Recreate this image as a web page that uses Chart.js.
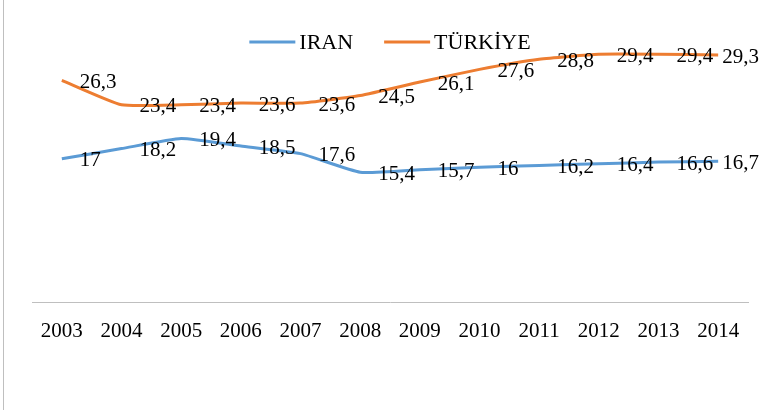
<!DOCTYPE html>
<html>
<head>
<meta charset="utf-8">
<script src="https://cdn.jsdelivr.net/npm/chart.js@4"></script>
<style>
  html, body { margin: 0; padding: 0; background: #fff; }
  #wrap { position: relative; width: 760px; height: 410px; }
  #edge { position: absolute; left: 3px; top: 0; width: 0; height: 410px; border-left: 1px solid #bfbfbf; }
</style>
</head>
<body>
<div id="wrap">
  <canvas id="chart" width="760" height="410"></canvas>
  <div id="edge"></div>
</div>
<script>
const years   = ['2003','2004','2005','2006','2007','2008','2009','2010','2011','2012','2013','2014']
const iran    = [17, 18.2, 19.4, 18.5, 17.6, 15.4, 15.7, 16, 16.2, 16.4, 16.6, 16.7]
const turkiye = [26.3, 23.4, 23.4, 23.6, 23.6, 24.5, 26.1, 27.6, 28.8, 29.4, 29.4, 29.3]

const SERIF = "'Liberation Serif', 'Times New Roman', serif"

// etiquetas de valor a la derecha de cada punto, con coma decimal
const valueLabels = {
  id: 'valueLabels',
  afterDatasetsDraw(chart) {
    const ctx = chart.ctx
    ctx.save()
    ctx.font = `21px ${SERIF}`
    ctx.fillStyle = '#000'
    ctx.textAlign = 'left'
    ctx.textBaseline = 'middle'
    chart.data.datasets.forEach((ds, i) => {
      chart.getDatasetMeta(i).data.forEach((pt, j) => {
        const txt = String(ds.data[j]).replace('.', ',')
        const w = ctx.measureText(txt).width
        const x = Math.min(pt.x + 18, chart.width - 1 - w)
        ctx.fillText(txt, x, pt.y + 2)
      })
    })
    ctx.restore()
  }
}

// leyenda horizontal dentro del área del gráfico
const innerLegend = {
  id: 'innerLegend',
  afterDraw(chart) {
    const ctx = chart.ctx
    const a = chart.chartArea
    ctx.save()
    ctx.font = `22px ${SERIF}`
    ctx.textBaseline = 'middle'
    ctx.textAlign = 'left'
    const lineW = 46, gapTxt = 4, gapItem = 31, y = 42
    const items = chart.data.datasets.map(ds => ({ ds, w: ctx.measureText(ds.label).width }))
    const total = items.reduce((s, it) => s + lineW + gapTxt + it.w, 0) + gapItem * (items.length - 1)
    let x = (a.left + a.right) / 2 - total / 2
    items.forEach(it => {
      ctx.strokeStyle = it.ds.borderColor
      ctx.lineWidth = 3
      ctx.beginPath(); ctx.moveTo(x, y); ctx.lineTo(x + lineW, y); ctx.stroke()
      ctx.fillStyle = '#000'
      ctx.fillText(it.ds.label, x + lineW + gapTxt, y + 1)
      x += lineW + gapTxt + it.w + gapItem
    })
    ctx.restore()
  }
}

new Chart(document.getElementById('chart'), {
  type: 'line',
  data: {
    labels: years,
    datasets: [
      { label:'IRAN',    data: iran,    borderColor:'#5B9BD5', backgroundColor:'#5B9BD5', borderWidth:3, pointRadius:0, tension:0.15 },
      { label:'TÜRKİYE', data: turkiye, borderColor:'#ED7D31', backgroundColor:'#ED7D31', borderWidth:3, pointRadius:0, tension:0.15 },
    ]
  },
  options: {
    responsive:false, animation:false, devicePixelRatio:1,
    layout:{ padding:{ left:32, right:12, top:7, bottom:0 } },
    plugins:{ tooltip:{ enabled:false }, legend:{ display:false } },
    scales:{
      x:{
        offset:true,
        grid:{ display:false, drawTicks:false },
        border:{ display:true, color:'#bfbfbf', width:1 },
        ticks:{ color:'#000', padding:17, maxRotation:0, autoSkip:false, font:{ family:SERIF, size:21 } },
        afterFit(scale) { scale.height = 108 }
      },
      y:{ display:false, min:0, max:35 }
    }
  },
  plugins:[valueLabels, innerLegend]
})
</script>
</body>
</html>
